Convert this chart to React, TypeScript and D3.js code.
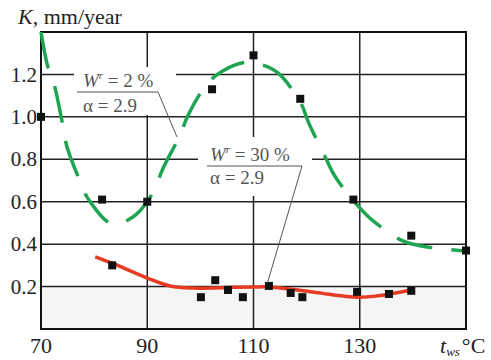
import React from "react";
import * as d3 from "d3";

// axis ticks
const xTicks = [70, 90, 110, 130];
const yTicks = [0.2, 0.4, 0.6, 0.8, 1.0, 1.2];

// W = 2 % measured points
const dryX = [70, 81.5, 90, 102.2, 110, 118.8, 128.8, 139.7, 150];
const dryY = [1.0, 0.61, 0.6, 1.13, 1.29, 1.085, 0.61, 0.44, 0.37];

// W = 2 % fitted curve
const dryFitX = [70, 71.3, 72.3, 74.1, 74.9, 77.3, 78.8, 83.4, 87.3, 90, 91.5, 93.0, 96.2, 97.7, 101.4, 104.2, 108, 111.6, 114.6, 118.9, 120.4, 123.5, 125.3, 129.5, 132.3, 138.1, 141.9, 150];
const dryFitY = [1.4, 1.235, 1.17, 0.962, 0.858, 0.70, 0.617, 0.495, 0.528, 0.60, 0.668, 0.759, 0.915, 1.009, 1.16, 1.216, 1.255, 1.245, 1.207, 1.065, 0.971, 0.811, 0.721, 0.585, 0.514, 0.415, 0.39, 0.368];

// W = 30 % measured points
const wetX = [83.4, 100.1, 102.8, 105.2, 108, 112.9, 117, 119.2, 129.5, 135.5, 139.7];
const wetY = [0.3, 0.15, 0.23, 0.184, 0.15, 0.203, 0.17, 0.15, 0.175, 0.165, 0.18];

// W = 30 % fitted curve
const wetFitX = [80.2, 83.4, 90, 94.3, 98.6, 104, 110, 113, 118, 123, 127, 130, 133, 136, 139.7];
const wetFitY = [0.34, 0.31, 0.24, 0.203, 0.193, 0.195, 0.198, 0.198, 0.185, 0.168, 0.155, 0.15, 0.155, 0.167, 0.184];

const W = 491;
const H = 360;
const left = 41, right = 466, top = 32, bottom = 329;

const x = d3.scaleLinear().domain([70, 150]).range([left, right]);
const y = d3.scaleLinear().domain([0, 1.4]).range([bottom, top]);

const serif = { fontFamily: '"Liberation Serif"' };
const green = "#1fa552";
const red = "#e63a22";

const App = () => {
  const line = d3
    .line<[number, number]>()
    .x(d => x(d[0]))
    .y(d => y(d[1]))
    .curve(d3.curveCatmullRom.alpha(0.5));

  const dryFit = dryFitX.map((v, i) => [v, dryFitY[i]] as [number, number]);
  const wetFit = wetFitX.map((v, i) => [v, wetFitY[i]] as [number, number]);
  const sq = 8;

  return (
    <svg width={W} height={H} style={{ position: "absolute", left: 0, top: 0, background: "#fff" }}>
      {/* shaded band under 0.2 */}
      <rect x={left} y={y(0.2)} width={right - left} height={bottom - y(0.2)} fill="#f5f5f5" />

      {/* grid */}
      {yTicks.map(t => (
        <line key={"gy" + t} x1={left} x2={right} y1={y(t)} y2={y(t)} stroke="#222" strokeWidth={1.5} />
      ))}
      {xTicks.slice(1).map(t => (
        <line key={"gx" + t} x1={x(t)} x2={x(t)} y1={top} y2={bottom} stroke="#222" strokeWidth={1.5} />
      ))}

      {/* label backgrounds */}
      <rect x={74} y={67} width={102} height={48} fill="#fff" />
      <rect x={198} y={137} width={114} height={59} fill="#fff" />

      {/* frame */}
      <rect x={left} y={top} width={right - left} height={bottom - top} fill="none" stroke="#111" strokeWidth={2} />

      {/* curves */}
      <path d={line(dryFit) || ""} fill="none" stroke={green} strokeWidth={3.5} strokeDasharray="37 19" />
      <path d={line(wetFit) || ""} fill="none" stroke={red} strokeWidth={3.5} />

      {/* points */}
      {dryX.map((v, i) => (
        <rect key={"d" + i} x={x(v) - sq / 2} y={y(dryY[i]) - sq / 2} width={sq} height={sq} fill="#111" />
      ))}
      {wetX.map((v, i) => (
        <rect key={"w" + i} x={x(v) - sq / 2} y={y(wetY[i]) - sq / 2} width={sq} height={sq} fill="#111" />
      ))}

      {/* annotation leaders */}
      <polyline points={`77,92 158,92 ${x(95.6)},${y(0.905)}`} fill="none" stroke="#555" strokeWidth={1} />
      <polyline points={`207,166 302,166 ${x(112.6)},${y(0.215)}`} fill="none" stroke="#555" strokeWidth={1} />

      <g fill="#555" fontSize={19}>
        <text x={83} y={87} style={serif}>
          <tspan fontStyle="italic">W</tspan>
          <tspan fontStyle="italic" fontSize={11} dy={-8}>r</tspan>
          <tspan dy={8}> = 2 %</tspan>
        </text>
        <text x={83} y={112} style={serif}>α = 2.9</text>
        <text x={210} y={161} style={serif}>
          <tspan fontStyle="italic">W</tspan>
          <tspan fontStyle="italic" fontSize={11} dy={-8}>r</tspan>
          <tspan dy={8}> = 30 %</tspan>
        </text>
        <text x={210} y={184} style={serif}>α = 2.9</text>
      </g>

      {/* tick labels */}
      <g fill="#222" fontSize={21}>
        {yTicks.map(t => (
          <text key={"ly" + t} x={37} y={y(t)} dy="0.34em" textAnchor="end" style={serif}>
            {d3.format(".1f")(t)}
          </text>
        ))}
        {xTicks.map(t => (
          <text key={"lx" + t} x={x(t)} y={353} textAnchor="middle" fontSize={22} style={serif}>
            {t}
          </text>
        ))}
      </g>

      {/* axis titles */}
      <text x={18} y={24} fontSize={22} fill="#222" style={serif}>
        <tspan fontStyle="italic">K</tspan>, mm/year
      </text>
      <text x={440} y={353} fontSize={22} fill="#222" style={serif}>
        <tspan fontStyle="italic">t</tspan>
        <tspan fontStyle="italic" fontSize={13} dy={3}>ws</tspan>
        <tspan dy={-3} dx={2}>°C</tspan>
      </text>
    </svg>
  );
};

export default App;
